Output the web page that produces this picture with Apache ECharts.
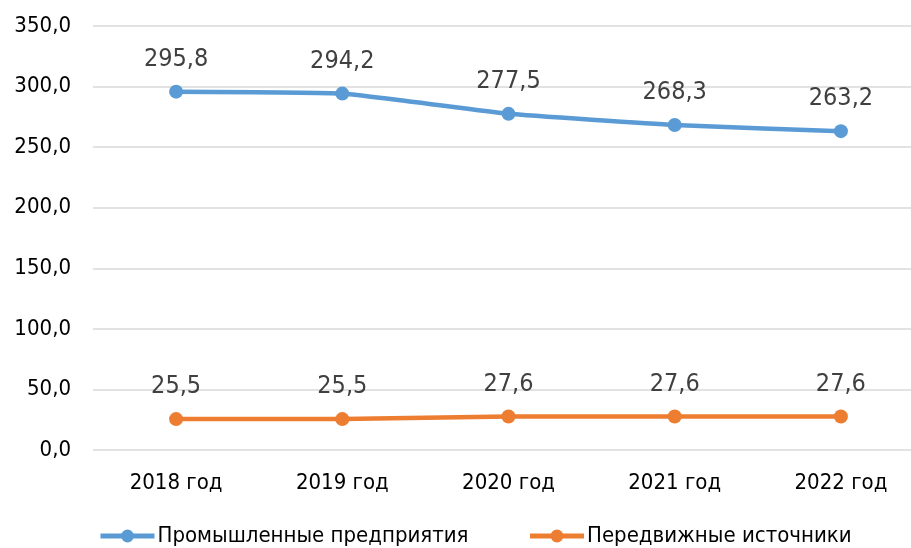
<!DOCTYPE html>
<html><head><meta charset="utf-8">
<script src="https://cdn.jsdelivr.net/npm/echarts@6/dist/echarts.min.js"></script>
<style>html,body{margin:0;padding:0;background:#fff}#c{width:911px;height:548px}</style>
</head><body><div id="c"></div>
<script>
const categories = ["2018 год","2019 год","2020 год","2021 год","2022 год"];
const industrial = [295.8, 294.2, 277.5, 268.3, 263.2];
const mobile = [25.5, 25.5, 27.6, 27.6, 27.6];
const seriesNames = ["Промышленные предприятия","Передвижные источники"];
const yTicks = {min:0, max:350, interval:50};

const fmt = v => v.toFixed(1).replace('.', ',');
const font = "DejaVu Sans Condensed";
const chart = echarts.init(document.getElementById('c'));
function mk(name, data, color){
  return {
    name, type:'line', data, smooth:0.12, symbol:'circle', symbolSize:14,
    lineStyle:{width:4.5,color}, itemStyle:{color},
    label:{show:true, position:'top', distance:13, formatter:p=>fmt(p.value),
      color:'#404040', fontFamily:font, fontSize:25}
  };
}
chart.setOption({
  animation:false,
  textStyle:{fontFamily:font},
  grid:{left:93, width:831, top:26, bottom:98, containLabel:false, outerBoundsMode:'none'},
  xAxis:{type:'category', data:categories, boundaryGap:true,
    axisLine:{show:false}, axisTick:{show:false},
    axisLabel:{color:'#000', fontFamily:font, fontSize:22, margin:22}},
  yAxis:{type:'value', min:yTicks.min, max:yTicks.max, interval:yTicks.interval,
    axisLabel:{formatter:v=>fmt(v), color:'#000', fontFamily:font, fontSize:22, margin:22},
    splitLine:{lineStyle:{color:'#D9D9D9', width:1.5}}},
  legend:{left:93, top:520, itemWidth:54, itemHeight:16, itemGap:59,
    lineStyle:{width:5},
    textStyle:{color:'#000', fontFamily:font, fontSize:22, padding:[0,0,0,-2]},
    data:seriesNames},
  series:[mk(seriesNames[0], industrial, '#5B9BD5'), mk(seriesNames[1], mobile, '#ED7D31')]
});
</script></body></html>
